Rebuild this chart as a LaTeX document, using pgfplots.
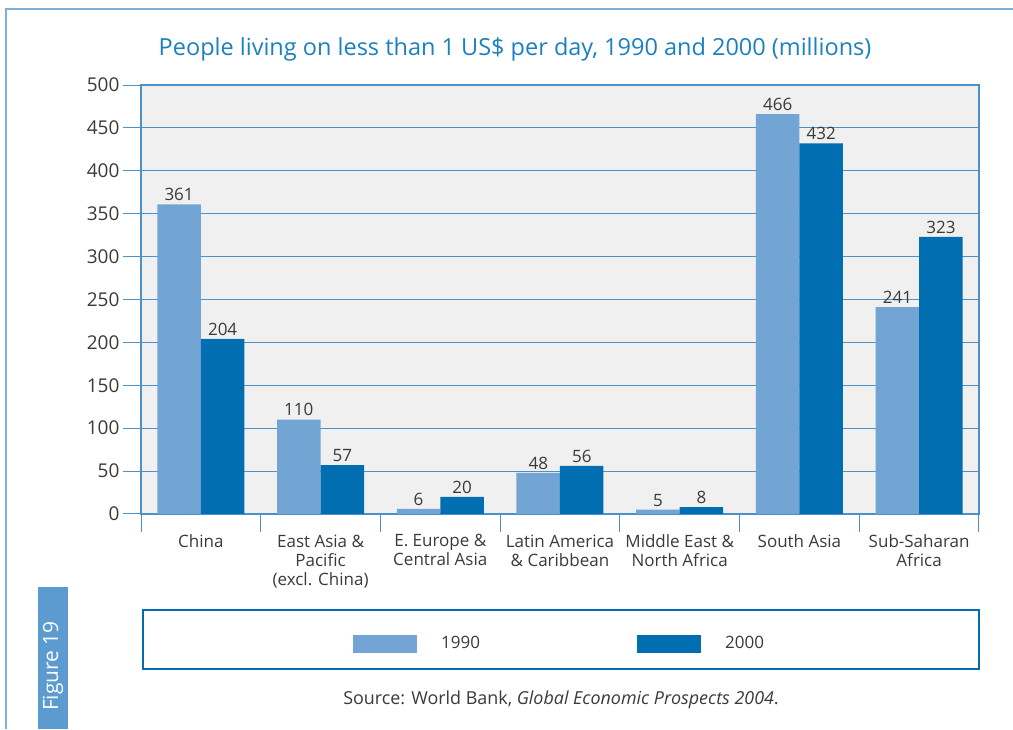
\documentclass[border=0pt]{standalone}
\usepackage{pgfplots}
\pgfplotsset{compat=1.18}
\usepackage{fontspec}
\setmainfont{Open Sans}
\definecolor{lightbar}{HTML}{72A5D3}
\definecolor{darkbar}{HTML}{006EB0}
\definecolor{gridblue}{HTML}{4A92C9}
\definecolor{titleblue}{HTML}{1A80C0}
\definecolor{framelight}{HTML}{7AB0DC}
\definecolor{figbox}{HTML}{5B9BD0}
\definecolor{bggray}{HTML}{F0F0F0}
\definecolor{textgray}{HTML}{3A3A3A}
\begin{document}
\begin{tikzpicture}[x=1pt,y=1pt]
\path[use as bounding box] (0,0) rectangle (1013,729);
% outer frame
\draw[framelight, line width=1.5pt] (6,0) -- (6,720) -- (1013,720);
% title
\node[text=titleblue, font=\fontsize{23.5}{28}\selectfont] at (515,680) {People living on less than 1 US\$ per day, 1990 and 2000 (millions)};
\begin{axis}[
  at={(141pt,215pt)}, anchor=south west,
  scale only axis, width=838pt, height=429pt,
  xmin=-0.5, xmax=6.5, ymin=0, ymax=500,
  axis background/.style={fill=bggray},
  axis line style={draw=gridblue, line width=1.2pt},
  ytick={0,50,...,500},
  ymajorgrids, grid style={draw=gridblue, line width=1pt},
  tick pos=left, tick align=outside,
  major tick length=18pt,
  tick style={draw=gridblue, line width=1pt},
  xtick={-0.5,0.5,1.5,2.5,3.5,4.5,5.5,6.5},
  xticklabels={},
  extra x ticks={0,1,2,3,4,5,6},
  extra x tick labels={China, East Asia \&\\Pacific\\(excl. China), E. Europe \&\\Central Asia, Latin America\\\& Caribbean, Middle East \&\\North Africa, South Asia, Sub-Saharan\\Africa},
  extra x tick style={major tick length=0pt, grid=none, xticklabel style={align=center, font=\fontsize{17}{19}\selectfont, text=textgray, anchor=north, yshift=-17pt}},
  /pgf/number format/assume math mode=true,
  yticklabel style={font=\fontsize{19}{22}\selectfont, text=textgray},
  ybar=0pt, bar width=43.5pt,
  nodes near coords,
  every node near coord/.append style={font=\fontsize{17}{19}\selectfont, text=textgray},
  legend columns=2,
  legend style={draw=none, fill=none, inner sep=0pt, at={(0.253,-0.302)}, anchor=west, font=\fontsize{17}{19}\selectfont, text=textgray,
    /tikz/every odd column/.append style={column sep=22pt},
    /tikz/every even column/.append style={column sep=155pt}},
  legend image code/.code={\fill[#1, draw=none] (0pt,-9pt) rectangle (64pt,9pt);},
]
\addplot[fill=lightbar, draw=none] coordinates {(0,361) (1,110) (2,6) (3,48) (4,5) (5,466) (6,241)};
\addplot[fill=darkbar, draw=none] coordinates {(0,204) (1,57) (2,20) (3,56) (4,8) (5,432) (6,323)};
\legend{1990,2000}
\end{axis}
% legend frame
\draw[darkbar, line width=1.2pt] (143,60) rectangle (979,119);
% source
\node[text=textgray, font=\fontsize{17.9}{21}\selectfont] at (561,29) {Source: World Bank, \textit{Global Economic Prospects 2004}.};
% figure box
\fill[figbox] (38,0) rectangle (68,142);
\node[rotate=90, text=white, font=\fontsize{21}{24}\selectfont] at (53,63) {Figure 19};
\end{tikzpicture}
\end{document}
